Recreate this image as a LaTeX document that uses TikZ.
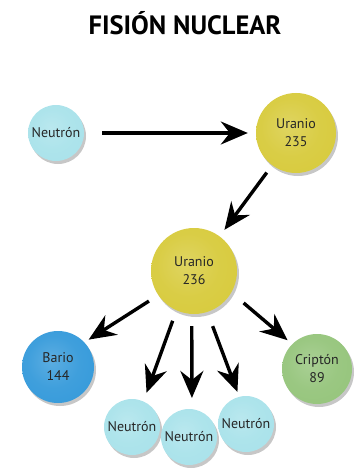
\documentclass[tikz,border=0pt]{standalone}
\usepackage{fontspec}
\setmainfont{PT Sans}
\usetikzlibrary{arrows.meta,shadows}

\definecolor{neutronc}{HTML}{A8E2EA}
\definecolor{uranioc}{HTML}{D7CA3A}
\definecolor{barioc}{HTML}{3399DA}
\definecolor{kriptonc}{HTML}{94C47A}

\colorlet{atomcol}{neutronc}
\pgfdeclareradialshading[atomcol]{atomshade}{\pgfpoint{-5bp}{5bp}}{%
	color(0bp)=(atomcol!80!white); color(18bp)=(atomcol!94!white);
	color(38bp)=(atomcol); color(57bp)=(atomcol!80!black)}

\tikzset{
	atom/.style={circle, inner sep=0pt, align=center, text=black!85,
		font=\fontsize{14}{18}\selectfont, /utils/exec={\colorlet{atomcol}{#1}},
		shading=atomshade,
		drop shadow={shadow xshift=2pt, shadow yshift=-3pt, opacity=0.22, fill=black}},
	neutron/.style={atom=neutronc, minimum size=56pt},
	reaction/.style={line width=3.4pt, -{Stealth[length=27pt, width=23pt, inset=9pt]}}
}

\begin{document}
\begin{tikzpicture}[x=1pt, y=-1pt]
	\useasboundingbox (0,0) rectangle (363,473);
	
	%title
	\node (title) at (185,23) {\fontsize{26.5}{30}\selectfont\bfseries FISIÓN NUCLEAR};
	
	%circles
	\node[neutron] (n0) at (56,133) {Neutrón};
	\node[atom=uranioc, minimum size=80pt] (u235) at (296,133) {Uranio\\235};
	\node[atom=uranioc, minimum size=86pt] (u236) at (194,271) {Uranio\\236};
	\node[atom=barioc, minimum size=72pt] (bario) at (58,367) {Bario\\144};
	\node[atom=kriptonc, minimum size=70pt] (kripton) at (317,369) {Criptón\\89};
	\node[neutron] (n1) at (132,427) {Neutrón};
	\node[neutron] (n2) at (189,437) {Neutrón};
	\node[neutron] (n3) at (246,424) {Neutrón};
	
	%arrows
	\draw[reaction, shorten <=18pt, shorten >=8pt] (n0) -- (u235);
	\draw[reaction, shorten <=9pt, shorten >=8pt] (u235) -- (u236);
	\draw[reaction, shorten <=11pt, shorten >=5pt] (u236.214) -- (bario.43);
	\draw[reaction, shorten <=11pt, shorten >=9pt] (u236.246) -- (n1.66);
	\draw[reaction, shorten <=12pt, shorten >=11pt] (u236.267) -- (n2.84);
	\draw[reaction, shorten <=15pt, shorten >=5pt] (u236.288) -- (n3.104);
	\draw[reaction, shorten <=16pt, shorten >=6pt] (u236.330) -- (kripton.135);
	
	%\draw[help lines] (0,0) grid[step=20] (363,473);
\end{tikzpicture}
\end{document}
